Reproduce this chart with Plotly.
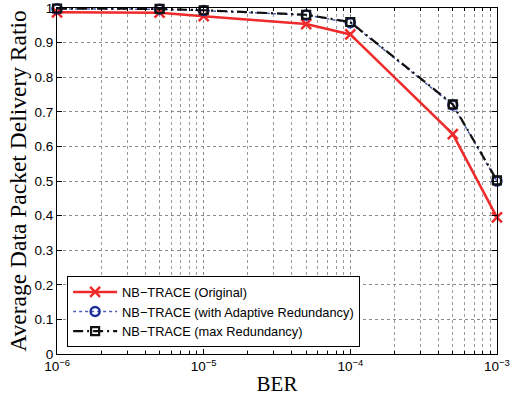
import plotly.graph_objects as go

ber = [1e-6, 5e-6, 1e-5, 5e-5, 1e-4, 5e-4, 1e-3]
original = [0.988, 0.987, 0.977, 0.954, 0.924, 0.636, 0.395]
adaptive = [0.998, 0.997, 0.993, 0.980, 0.958, 0.720, 0.500]
max_red = [0.999, 0.998, 0.994, 0.981, 0.960, 0.722, 0.502]

xtick_vals = [1e-6, 1e-5, 1e-4, 1e-3]
xtick_text = ["10<sup>−6</sup>", "10<sup>−5</sup>", "10<sup>−4</sup>", "10<sup>−3</sup>"]
xminor_vals = [m * d for d in [1e-6, 1e-5, 1e-4] for m in [2, 3, 4, 5, 6, 7, 8, 9]]
ytick_vals = [0, 0.1, 0.2, 0.3, 0.4, 0.5, 0.6, 0.7, 0.8, 0.9, 1]
ytick_text = ["0", "0.1", "0.2", "0.3", "0.4", "0.5", "0.6", "0.7", "0.8", "0.9", "1"]

fig = go.Figure()
fig.add_trace(go.Scatter(
    x=ber, y=original, name="NB−TRACE (Original)", mode="lines+markers",
    line=dict(color="#ee2a2a", width=2.5),
    marker=dict(symbol="x-thin", size=10, line=dict(color="#ee2a2a", width=2.5)),
    cliponaxis=False))
fig.add_trace(go.Scatter(
    x=ber, y=adaptive, name="NB−TRACE (with Adaptive Redundancy)", mode="lines+markers",
    line=dict(color="#4a5fb0", width=1.5, dash="dot"),
    marker=dict(symbol="circle-open", size=9, color="#1f2f9a", line=dict(color="#1f2f9a", width=2.5)),
    cliponaxis=False))
fig.add_trace(go.Scatter(
    x=ber, y=max_red, name="NB−TRACE (max Redundancy)", mode="lines+markers",
    line=dict(color="#111111", width=2.2, dash="10px,4px,2px,4px"),
    marker=dict(symbol="square-open", size=8, color="#111111", line=dict(color="#111111", width=2.2)),
    cliponaxis=False))

grid_common = dict(showgrid=True, gridcolor="#8a8a8a", griddash="dot", gridwidth=1)
serif = "Liberation Serif, Times New Roman, serif"

fig.update_layout(
    width=510, height=403,
    margin=dict(l=57, r=13, t=8, b=49, autoexpand=False),
    paper_bgcolor="white", plot_bgcolor="white",
    font=dict(family="Liberation Sans, Arial, sans-serif", size=13.5, color="black"),
    showlegend=True,
    legend=dict(x=0.023, y=0.02, xanchor="left", yanchor="bottom",
                bgcolor="white", bordercolor="black", borderwidth=1,
                font=dict(size=12.8), tracegroupgap=0, itemwidth=44),
    xaxis=dict(
        type="log", range=[-6.0004, -2.9996], automargin=False,
        tickmode="array", tickvals=xtick_vals, ticktext=xtick_text,
        ticks="inside", ticklen=5, tickcolor="black",
        showline=True, linecolor="black", linewidth=1, mirror="ticks",
        minor=dict(tickmode="array", tickvals=xminor_vals, ticks="inside", ticklen=3,
                   tickcolor="black", showgrid=True, gridcolor="#9a9a9a",
                   griddash="dot", gridwidth=1),
        zeroline=False,
        title=dict(text="BER", font=dict(family=serif, size=21), standoff=3),
        **grid_common,
    ),
    yaxis=dict(
        range=[0, 1.0005], automargin=False,
        tickmode="array", tickvals=ytick_vals, ticktext=ytick_text,
        ticks="inside", ticklen=5, tickcolor="black",
        showline=True, linecolor="black", linewidth=1, mirror="ticks",
        zeroline=False,
        title=dict(text="Average Data Packet Delivery Ratio", font=dict(family=serif, size=23.5), standoff=1),
        **grid_common,
    ),
)

fig.write_html("out.html", config={"displayModeBar": False},
               post_script="document.body.style.margin='0';")
